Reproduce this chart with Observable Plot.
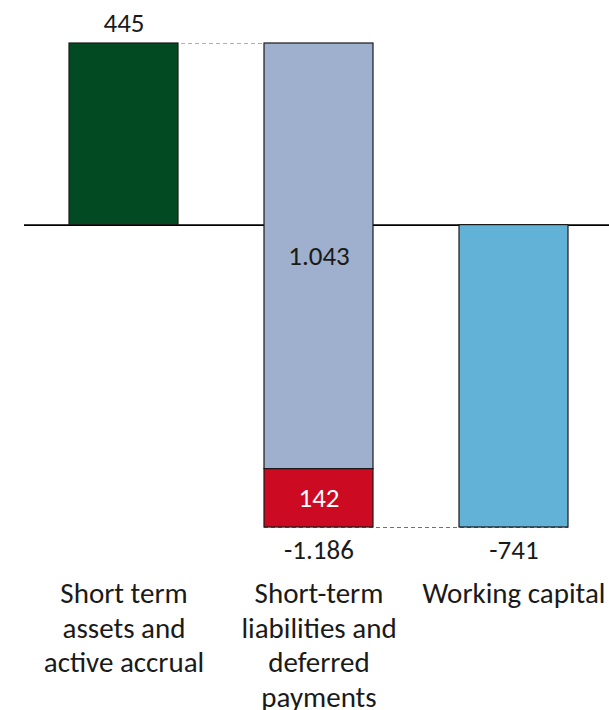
<!DOCTYPE html>
<html>
<head>
<meta charset="utf-8">
<script src="https://cdn.jsdelivr.net/npm/d3@7"></script>
<script src="https://cdn.jsdelivr.net/npm/@observablehq/plot@0.6"></script>
<style>
  html, body { margin: 0; padding: 0; background: #ffffff; }
  #chart svg { display: block; }
</style>
</head>
<body>
<div id="chart"></div>
<script>
// ---- data ----
const categories = [
  "Short term\nassets and\nactive accrual",
  "Short-term\nliabilities and\ndeferred\npayments",
  "Working capital"
];
const assets = 445;                 // Short term assets and active accrual
const liabilityParts = [1043, 142]; // Short-term liabilities, deferred payments
const liabilitiesTotal = 1186;      // label under bar 2
const workingCapital = -741;        // Working capital

const colors = {
  assets: "#014a22",
  liabilities: "#9eb0cd",
  deferred: "#cc0a21",
  capital: "#62b2d8"
};

// ---- derived table for the waterfall ----
const blueBottom = assets - liabilityParts[0];
const secondBottom = assets - liabilitiesTotal;
const segments = [
  {cat: categories[0], y1: 0, y2: assets, fill: colors.assets},
  {cat: categories[1], y1: assets, y2: blueBottom, fill: colors.liabilities},
  {cat: categories[1], y1: blueBottom, y2: secondBottom, fill: colors.deferred},
  {cat: categories[2], y1: 0, y2: workingCapital, fill: colors.capital}
];

const locale = d3.formatLocale({decimal: ",", thousands: ".", grouping: [3], currency: ["", "€"], minus: "-"});
const fmt = locale.format(",d");

const topLabels = [{cat: categories[0], y: assets, text: fmt(assets)}];
const insideLabels = [
  {cat: categories[1], y: (assets + blueBottom) / 2, text: fmt(liabilityParts[0]), fill: "#1a1a1a"},
  {cat: categories[1], y: (blueBottom + secondBottom) / 2, text: fmt(liabilityParts[1]), fill: "#ffffff"}
];
const bottomLabels = [
  {cat: categories[1], y: secondBottom, text: fmt(-liabilitiesTotal)},
  {cat: categories[2], y: workingCapital, text: fmt(workingCapital)}
];
const connectors = [
  {from: categories[0], to: categories[1], y: assets, stroke: "#b0b0b0"},
  {from: categories[1], to: categories[2], y: secondBottom, stroke: "#707070"}
];

const font = "Carlito, Lato, 'Open Sans', sans-serif";

const chart = Plot.plot({
  width: 609,
  height: 710,
  marginLeft: 24,
  marginRight: 0,
  marginTop: 43,
  marginBottom: 183,
  style: {fontFamily: font, color: "#1a1a1a", background: "#ffffff"},
  x: {domain: categories, paddingInner: 0.44, paddingOuter: 0.216, align: 0.52, axis: null},
  y: {domain: [workingCapital, assets], axis: null},
  marks: [
    Plot.ruleY([0], {stroke: "#000000", strokeWidth: 1.6}),
    Plot.ruleY(connectors, {y: "y", x1: "from", x2: "to", stroke: "stroke", strokeDasharray: "4,3", strokeWidth: 1.2}),
    Plot.barY(segments, {x: "cat", y1: "y1", y2: "y2", fill: "fill", stroke: "#1a1a1a", strokeWidth: 1.2}),
    Plot.text(topLabels, {x: "cat", y: "y", text: "text", dy: -20, fontSize: 27, fill: "#1a1a1a"}),
    Plot.text(insideLabels, {x: "cat", y: "y", text: "text", fill: "fill", fontSize: 27}),
    Plot.text(bottomLabels, {x: "cat", y: "y", text: "text", dy: 23, fontSize: 27, fill: "#1a1a1a"}),
    Plot.axisX({tickSize: 0, tickPadding: 51, fontSize: 29, lineHeight: 1.19, fill: "#1a1a1a", label: null})
  ]
});
document.getElementById("chart").appendChild(chart);
</script>
</body>
</html>
